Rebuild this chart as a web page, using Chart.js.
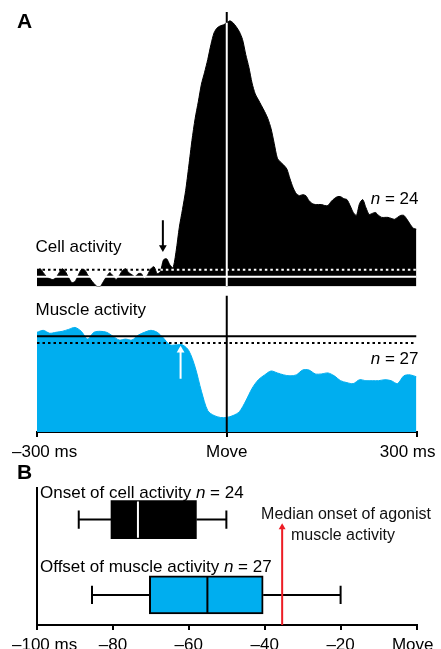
<!DOCTYPE html>
<html><head><meta charset="utf-8">
<script src="https://cdn.jsdelivr.net/npm/chart.js@4.4.1/dist/chart.umd.min.js"></script>
<style>
html,body{margin:0;padding:0;background:#fff;width:441px;height:649px;overflow:hidden;}
#wrap{position:relative;width:441px;height:649px;}
canvas{position:absolute;left:0;}
.t{position:absolute;font-family:'Liberation Sans',Arial,Helvetica,sans-serif;font-size:17px;line-height:17px;white-space:nowrap;color:#000;}
.b{font-weight:bold;font-size:21px;line-height:21px;}
.s{font-size:16px;line-height:16px;text-align:center;width:200px;color:#111;}
</style></head>
<body><div id="wrap">
<canvas id="cell" width="441" height="291" style="top:0px"></canvas>
<canvas id="muscle" width="441" height="175" style="top:291px"></canvas>
<canvas id="box" width="441" height="189" style="top:460px"></canvas>
<div class="t b" style="left:17px;top:10.2px">A</div>
<div class="t" style="left:35.5px;top:238.3px">Cell activity</div>
<div class="t" style="left:370.7px;top:189.8px"><i>n</i> = 24</div>
<div class="t" style="left:35.5px;top:301.1px">Muscle activity</div>
<div class="t" style="left:370.7px;top:349.5px"><i>n</i> = 27</div>
<div class="t b" style="left:17px;top:461.2px">B</div>
<div class="t" style="left:40px;top:483.6px">Onset of cell activity <i>n</i> = 24</div>
<div class="t" style="left:40px;top:557.6px">Offset of muscle activity <i>n</i> = 27</div>
<div class="t s" style="left:246px;top:505.7px">Median onset of agonist</div>
<div class="t s" style="left:243px;top:526.5px">muscle activity</div>
</div>
<script>
// ---------- DATA ----------
const cellTimes = [-300,-295,-290,-285,-280,-275,-270,-265,-260,-255,
  -250,-245,-240,-235,-230,-225,-220,-215,-210,-205,
  -200,-195,-190,-185,-180,-175,-170,-165,-160,-155,
  -150,-145,-140,-135,-130,-125,-120,-115,-110,-105,
  -100,-95,-90,-85,-80,-75,-70,-65,-60,-55,
  -50,-45,-40,-35,-30,-25,-20,-15,-10,-5,
  0,5,10,15,20,25,30,35,40,45,
  50,55,60,65,70,75,80,85,90,95,
  100,105,110,115,120,125,130,135,140,145,
  150,155,160,165,170,175,180,185,190,195,
  200,205,210,215,220,225,230,235,240,245,
  250,255,260,265,270,275,280,285,290,295,300];
const cellRate = [6,8,4,0,-2,-3,-1,4,8,5,
  -1,-6,-5,1,7,7,2,-3,-7,-10,
  -10,-5,0,4,1,-3,1,6,8,4,
  2,0,3,3,-2,2,8,10,3,5,
  17,18,12,9,26,50,68,87,112,138,
  160,177,195,207,220,235,247,252,254,255,
  257,259,257,253,248,240,225,212,196,185,
  179,173,167,160,150,135,120,116,113,109,
  99,90,84,82,83,82,77,74,73,73,
  73,72,72,76,79,81,81,79,78,72,
  65,62,74,78,70,63,64,65,62,60,
  60,60,59,58,60,62,62,58,53,49,48];
const muscleTimes = [-300,-290,-280,-270,-260,-250,-240,-230,-220,-210,
  -200,-190,-180,-170,-160,-150,-140,-130,-120,-110,
  -100,-90,-80,-70,-60,-50,-40,-30,-20,-10,
  0,10,20,30,40,50,60,70,80,90,
  100,110,120,130,140,150,160,170,180,190,
  200,210,220,230,240,250,260,270,280,290,300];
const muscleEmg = [103,105,102,103,104,106,108,104,96,103,
  104,103,99,95,96,95,100,103,105,103,
  97,90,90,90,84,67,42,22,17,15,
  15,17,21,32,45,54,59,63,61,59,
  58,59,64,64,60,60,61,58,53,51,
  50,54,53,53,53,54,53,50,58,59,57];
const cellBaseline = 0, cellThreshold = 7;
const muscleBaseline = 99, muscleThreshold = 92;
const cellOnsetMs = -101;      // black arrow
const muscleOffsetMs = -73;    // white arrow
const tickValuesA = [-300, 0, 300];
const tickLabelsA = ['\u2013300 ms', 'Move', '300 ms'];

const boxNames = ['Onset of cell activity', 'Offset of muscle activity'];
const boxRows = [2, 1];
const boxLow = [-89, -85.5];
const boxQ1 = [-80.5, -70.4];
const boxMedian = [-73.4, -55.1];
const boxQ3 = [-58, -40.4];
const boxHigh = [-50.1, -20];
const medianMuscleOnset = -35.4;
const tickValuesB = [-100, -80, -60, -40, -20, 0];
const tickLabelsB = ['\u2013100 ms', '\u201380', '\u201360', '\u201340', '\u201320', 'Move'];

// ---------- STYLE ----------
const BLUE = '#00AEEF', RED = '#ED1C24';
const FONT = '17px "Liberation Sans", Arial, sans-serif';
const boxFill = ['#000000', BLUE];
const boxBorder = [0, 2];
const medianColor = ['#ffffff', '#000000'];

const tickText = {
  id: 'tickText',
  afterDraw(chart, args, o) {
    if (!o || !o.values) return;
    const sc = chart.scales.x, ctx = chart.ctx;
    ctx.save();
    ctx.fillStyle = '#000'; ctx.font = FONT; ctx.textBaseline = 'alphabetic';
    o.values.forEach((v, i) => {
      let x = sc.getPixelForValue(v), align = 'center';
      if (i === 0) { align = 'left'; x += o.firstShift; }
      else if (i === o.values.length - 1) { align = 'right'; x += o.lastShift; }
      ctx.textAlign = align;
      ctx.fillText(o.labels[i], x, o.baseline);
    });
    ctx.restore();
  }
};

const xy = (ts, vs) => ts.map((t, i) => ({x: t, y: vs[i]}));
const seg = (x1, y1, x2, y2) => [{x: x1, y: y1}, {x: x2, y: y2}];
const common = {responsive: false, animation: false, events: [], devicePixelRatio: 1,
  plugins: {legend: {display: false}, tooltip: {enabled: false}}};

// ---------- CELL PANEL ----------
const cellMin = -10, cellMax = 270;
const cellAtMove = cellRate[cellTimes.indexOf(0)];
new Chart(document.getElementById('cell'), {
  type: 'line',
  data: {datasets: [
    {data: seg(0, cellMin, 0, 268), borderColor: '#000', borderWidth: 2, pointRadius: 0, order: 10},
    {data: xy(cellTimes, cellRate), borderColor: '#000', backgroundColor: '#000', borderWidth: 1,
     fill: 'start', pointRadius: 0, tension: 0.25, order: 5},
    {data: seg(-300, cellBaseline, 300, cellBaseline), borderColor: '#fff', borderWidth: 2, pointRadius: 0, order: 3},
    {data: seg(-300, cellThreshold, -105, cellThreshold), borderColor: '#000', borderWidth: 2, borderDash: [2.5, 3], pointRadius: 0, order: 3},
    {data: seg(-105, cellThreshold, 300, cellThreshold), borderColor: '#fff', borderWidth: 2, borderDash: [2.5, 3], pointRadius: 0, order: 3},
    {data: seg(0, cellMin, 0, cellAtMove), borderColor: '#fff', borderWidth: 2, pointRadius: 0, order: 1},
    {data: seg(cellOnsetMs, 57, cellOnsetMs, 29.5), borderColor: '#000', borderWidth: 2,
     pointRadius: [0, 4.5], pointStyle: 'triangle', pointRotation: 180,
     pointBackgroundColor: '#000', pointBorderWidth: 0, order: 0}
  ]},
  options: Object.assign({}, common, {
    layout: {padding: {top: 10, bottom: 1, left: 37, right: 24.5}},
    scales: {
      x: {type: 'linear', min: -300, max: 300, display: false},
      y: {type: 'linear', min: cellMin, max: cellMax, display: false}
    }
  })
});

// ---------- MUSCLE PANEL ----------
const musMin = 0, musMax = 141;
new Chart(document.getElementById('muscle'), {
  type: 'line',
  data: {datasets: [
    {data: xy(muscleTimes, muscleEmg), borderColor: BLUE, backgroundColor: BLUE, borderWidth: 1,
     fill: 'start', pointRadius: 0, tension: 0.3, order: 5},
    {data: seg(-300, muscleBaseline, 300, muscleBaseline), borderColor: '#000', borderWidth: 2, pointRadius: 0, order: 3},
    {data: seg(-300, muscleThreshold, 300, muscleThreshold), borderColor: '#000', borderWidth: 2, borderDash: [2.5, 3], pointRadius: 0, order: 3},
    {data: seg(0, musMin, 0, musMax), borderColor: '#000', borderWidth: 2, pointRadius: 0, order: 1},
    {data: seg(muscleOffsetMs, 55, muscleOffsetMs, 84.5), borderColor: '#fff', borderWidth: 2,
     pointRadius: [0, 4.5], pointStyle: 'triangle', pointRotation: 0,
     pointBackgroundColor: '#fff', pointBorderWidth: 0, order: 0}
  ]},
  options: Object.assign({}, common, {
    layout: {padding: {top: 0, bottom: 29, left: 37, right: 24.5}},
    scales: {
      x: {type: 'linear', min: -300, max: 300,
          afterBuildTicks: s => { s.ticks = tickValuesA.map(v => ({value: v})); },
          ticks: {display: false},
          grid: {display: true, drawOnChartArea: false, drawTicks: true, tickLength: 5, color: '#000', lineWidth: 2},
          border: {display: true, color: '#000', width: 2}},
      y: {type: 'linear', min: musMin, max: musMax, display: false}
    },
    plugins: Object.assign({}, common.plugins, {
      tickText: {values: tickValuesA, labels: tickLabelsA, firstShift: -25, lastShift: 19, baseline: 166}
    })
  }),
  plugins: [tickText]
});

// ---------- BOX PANEL ----------
const cap = 0.12, half = 0.25;
const boxDatasets = [];
boxRows.forEach((row, i) => {
  boxDatasets.push({type: 'bar', indexAxis: 'y', grouped: false, label: boxNames[i],
    data: [{x: [boxQ1[i], boxQ3[i]], y: row}],
    backgroundColor: boxFill[i], borderColor: '#000', borderWidth: boxBorder[i],
    borderSkipped: false, barThickness: 38, order: 5});
  boxDatasets.push({type: 'scatter', showLine: true,
    data: [{x: boxLow[i], y: row + cap}, {x: boxLow[i], y: row - cap}, {x: boxLow[i], y: row}, {x: boxQ1[i], y: row}],
    borderColor: '#000', borderWidth: 2, pointRadius: 0, order: 4});
  boxDatasets.push({type: 'scatter', showLine: true,
    data: [{x: boxQ3[i], y: row}, {x: boxHigh[i], y: row}, {x: boxHigh[i], y: row + cap}, {x: boxHigh[i], y: row - cap}],
    borderColor: '#000', borderWidth: 2, pointRadius: 0, order: 4});
  boxDatasets.push({type: 'scatter', showLine: true,
    data: seg(boxMedian[i], row - half + 0.01, boxMedian[i], row + half - 0.01),
    borderColor: medianColor[i], borderWidth: 2, pointRadius: 0, order: 1});
});
boxDatasets.push({type: 'scatter', showLine: true,
  data: seg(medianMuscleOnset, 0.6, medianMuscleOnset, 1.90),
  borderColor: RED, borderWidth: 2, pointRadius: [0, 4], pointStyle: 'triangle',
  pointBackgroundColor: RED, pointBorderWidth: 0, order: 0});

new Chart(document.getElementById('box'), {
  type: 'scatter',
  data: {datasets: boxDatasets},
  options: Object.assign({}, common, {
    layout: {padding: {top: 28, bottom: 19, left: 37, right: 24.5}},
    scales: {
      x: {type: 'linear', min: -100, max: 0, offset: false,
          afterBuildTicks: s => { s.ticks = tickValuesB.map(v => ({value: v})); },
          ticks: {display: false},
          grid: {display: true, drawOnChartArea: false, drawTicks: true, tickLength: 5, color: '#000', lineWidth: 2},
          border: {display: true, color: '#000', width: 2}},
      y: {type: 'linear', min: 0.6, max: 2.42, offset: false,
          ticks: {display: false},
          grid: {display: false, drawTicks: false, tickLength: 0},
          border: {display: true, color: '#000', width: 2}}
    },
    plugins: Object.assign({}, common.plugins, {
      tickText: {values: tickValuesB, labels: tickLabelsB, firstShift: -25, lastShift: 17, baseline: 190}
    })
  }),
  plugins: [tickText]
});
</script>
</body></html>
